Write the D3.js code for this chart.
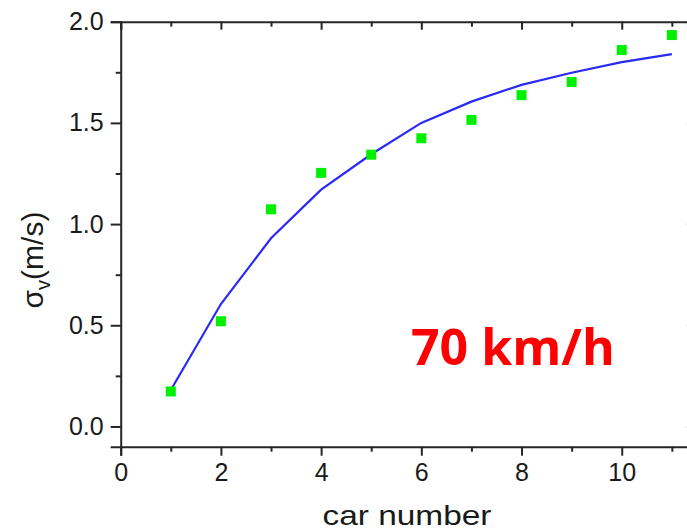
<!DOCTYPE html>
<html>
<head>
<meta charset="utf-8">
<script src="https://cdn.jsdelivr.net/npm/d3@7"></script>
<style>
  html, body { margin: 0; padding: 0; background: #fff; }
  svg { display: block; }
</style>
</head>
<body>
<script>
// data
const carNumber = [1, 2, 3, 4, 5, 6, 7, 8, 9, 10, 11];
const sigmaMeasured = [0.173, 0.52, 1.073, 1.253, 1.343, 1.424, 1.515, 1.637, 1.702, 1.86, 1.934];
const sigmaModel = [0.18, 0.605, 0.93, 1.17, 1.345, 1.50, 1.605, 1.688, 1.748, 1.80, 1.84];
const xMajor = [0, 2, 4, 6, 8, 10];
const xMinor = [1, 3, 5, 7, 9, 11];
const yMajor = [0, 0.5, 1.0, 1.5, 2.0];
const yMinor = [0.25, 0.75, 1.25, 1.75];

const W = 687, H = 530;
const font = '"Liberation Sans", Arial, sans-serif';

const svg = d3.select('body').append('svg')
    .attr('width', W)
    .attr('height', H);

const x = d3.scaleLinear().domain([0, 11.5]).range([120.7, 696.9]);
const y = d3.scaleLinear().domain([-0.1, 2.0]).range([446.7, 21.7]);

const axisColor = '#262626';

function styleAxis(g) {
    g.select('.domain').attr('stroke', axisColor).attr('stroke-width', 2);
    g.selectAll('.tick line').attr('stroke', axisColor).attr('stroke-width', 2);
    g.selectAll('text').attr('font-family', font).attr('fill', '#1a1a1a');
}

// bottom axis: outward ticks
const gBottom = svg.append('g')
    .attr('transform', `translate(0,${y(-0.1)})`)
    .call(d3.axisBottom(x).tickValues(xMajor).tickSize(9).tickPadding(8).tickFormat(d3.format('d')))
    .call(styleAxis);
gBottom.selectAll('text').attr('font-size', 25);
svg.append('g')
    .attr('transform', `translate(0,${y(-0.1)})`)
    .call(d3.axisBottom(x).tickValues(xMinor).tickSize(5).tickFormat(''))
    .call(g => g.select('.domain').remove())
    .call(styleAxis);

// left axis: outward ticks
const gLeft = svg.append('g')
    .attr('transform', `translate(${x(0)},0)`)
    .call(d3.axisLeft(y).tickValues(yMajor).tickSize(10).tickPadding(7).tickFormat(d3.format('.1f')))
    .call(styleAxis);
gLeft.selectAll('text').attr('font-size', 25);
svg.append('g')
    .attr('transform', `translate(${x(0)},0)`)
    .call(d3.axisLeft(y).tickValues(yMinor).tickSize(5).tickFormat(''))
    .call(g => g.select('.domain').remove())
    .call(styleAxis);

// top axis: inward ticks, no labels
svg.append('g')
    .attr('transform', `translate(0,${y(2.0)})`)
    .call(d3.axisTop(x).tickValues(xMajor).tickSize(-8).tickFormat(''))
    .call(styleAxis);
svg.append('g')
    .attr('transform', `translate(0,${y(2.0)})`)
    .call(d3.axisTop(x).tickValues(xMinor).tickSize(-5).tickFormat(''))
    .call(g => g.select('.domain').remove())
    .call(styleAxis);

// right axis: inward ticks, mostly outside the picture
svg.append('g')
    .attr('transform', `translate(${x(11.5)},0)`)
    .call(d3.axisRight(y).tickValues(yMajor).tickSize(-10).tickFormat(''))
    .call(styleAxis);

// model curve
const line = d3.line()
    .x((d, i) => x(carNumber[i]))
    .y(d => y(d));

svg.append('path')
    .datum(sigmaModel)
    .attr('fill', 'none')
    .attr('stroke', '#2a2af5')
    .attr('stroke-width', 2.2)
    .attr('d', line);

// measured points
const s = 10;
svg.append('g').selectAll('rect')
    .data(sigmaMeasured)
    .join('rect')
    .attr('x', (d, i) => x(carNumber[i]) - s / 2)
    .attr('y', d => y(d) - s / 2)
    .attr('width', s)
    .attr('height', s)
    .attr('fill', '#00f000');

// axis titles
svg.append('text')
    .attr('x', 407)
    .attr('y', 525)
    .attr('text-anchor', 'middle')
    .attr('font-family', font)
    .attr('font-size', 28)
    .attr('textLength', 169)
    .attr('lengthAdjust', 'spacingAndGlyphs')
    .attr('fill', '#1a1a1a')
    .text('car number');

const yTitle = svg.append('text')
    .attr('transform', 'translate(43,260) rotate(-90)')
    .attr('text-anchor', 'middle')
    .attr('font-family', font)
    .attr('font-size', 30)
    .attr('fill', '#1a1a1a');
yTitle.append('tspan').text('σ');
yTitle.append('tspan').attr('font-size', 20).attr('dy', 7).text('v');
yTitle.append('tspan').attr('dy', -7).text('(m/s)');

// speed annotation
svg.append('text')
    .attr('x', 411)
    .attr('y', 365)
    .attr('font-family', '"Open Sans", sans-serif')
    .attr('font-weight', 700)
    .attr('font-size', 50)
    .attr('fill', '#ff0000')
    .text('70 km/h');
</script>
</body>
</html>
